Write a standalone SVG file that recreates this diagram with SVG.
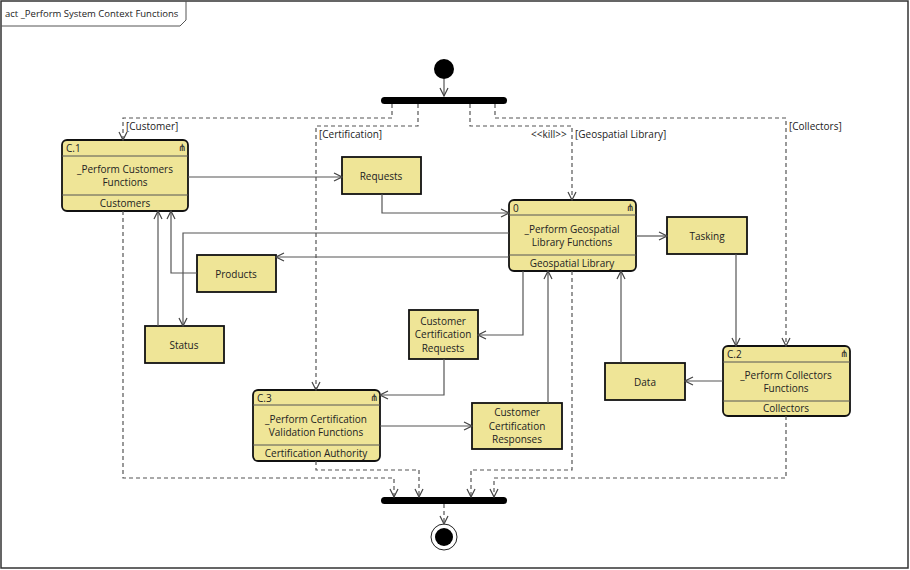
<svg xmlns="http://www.w3.org/2000/svg" width="910" height="570" viewBox="0 0 910 570">
<defs>
<marker id="a" markerWidth="10" markerHeight="10" refX="9" refY="5" orient="auto" markerUnits="userSpaceOnUse"><path d="M1,1 L9,5 L1,9" fill="none" stroke="#444" stroke-width="1.2"/></marker>
</defs>
<style>
text{font-family:"Open Sans","Noto Sans",sans-serif;font-size:10px;fill:#222}
.n{fill:#efe597;stroke:#111;stroke-width:1.8}
.c{fill:none;stroke:#555;stroke-width:1.2;marker-end:url(#a)}
.d{fill:none;stroke:#555;stroke-width:1.2;stroke-dasharray:4,3;marker-end:url(#a)}
.l{stroke:#555;stroke-width:1}
.m{text-anchor:middle}
</style>
<rect x="1" y="1" width="907" height="567" fill="#fff" stroke="#333" stroke-width="1.5"/>
<path d="M1,26 H180 L186,20 V1" fill="none" stroke="#555"/>
<text x="5" y="17" style="font-size:9.5px">act _Perform System Context Functions</text>

<g id="initial"><circle cx="444" cy="69" r="10" fill="#000"/></g>
<g id="fork"><rect x="381" y="97" width="126" height="7" rx="3.5" fill="#000"/></g>
<g id="join"><rect x="381" y="497" width="126" height="7" rx="3.5" fill="#000"/></g>
<g id="final"><circle cx="444" cy="537" r="13" fill="#fff" stroke="#222"/><circle cx="444" cy="537" r="9" fill="#000"/></g>

<g id="C1"><rect class="n" x="62" y="140" width="126" height="71" rx="5"/><line class="l" x1="62" y1="156" x2="188" y2="156"/><line class="l" x1="62" y1="195" x2="188" y2="195"/>
<text x="66" y="152">C.1</text><text x="178" y="151">⋔</text>
<text class="m" x="125" y="173">_Perform Customers</text><text class="m" x="125" y="186">Functions</text><text class="m" x="125" y="207">Customers</text></g>

<g id="N0"><rect class="n" x="509" y="200" width="127" height="71" rx="5"/><line class="l" x1="509" y1="215" x2="636" y2="215"/><line class="l" x1="509" y1="255" x2="636" y2="255"/>
<text x="513" y="212">0</text><text x="626" y="211">⋔</text>
<text class="m" x="572" y="233">_Perform Geospatial</text><text class="m" x="572" y="246">Library Functions</text><text class="m" x="572" y="267">Geospatial Library</text></g>

<g id="C2"><rect class="n" x="723" y="346" width="127" height="70" rx="5"/><line class="l" x1="723" y1="362" x2="850" y2="362"/><line class="l" x1="723" y1="401" x2="850" y2="401"/>
<text x="727" y="358">C.2</text><text x="840" y="357">⋔</text>
<text class="m" x="786" y="379">_Perform Collectors</text><text class="m" x="786" y="392">Functions</text><text class="m" x="786" y="412">Collectors</text></g>

<g id="C3"><rect class="n" x="253" y="390" width="127" height="71" rx="5"/><line class="l" x1="253" y1="405" x2="380" y2="405"/><line class="l" x1="253" y1="445" x2="380" y2="445"/>
<text x="257" y="402">C.3</text><text x="370" y="401">⋔</text>
<text class="m" x="316" y="423">_Perform Certification</text><text class="m" x="316" y="436">Validation Functions</text><text class="m" x="316" y="457">Certification Authority</text></g>

<g id="Requests"><rect class="n" x="342" y="157" width="79" height="37"/><text class="m" x="381" y="180">Requests</text></g>
<g id="Tasking"><rect class="n" x="667" y="217" width="80" height="37"/><text class="m" x="707" y="240">Tasking</text></g>
<g id="Products"><rect class="n" x="197" y="255" width="79" height="37"/><text class="m" x="236" y="278">Products</text></g>
<g id="Status"><rect class="n" x="145" y="326" width="79" height="37"/><text class="m" x="184" y="349">Status</text></g>
<g id="CCReq"><rect class="n" x="409" y="310" width="69" height="49"/><text class="m" x="443" y="325">Customer</text><text class="m" x="443" y="338">Certification</text><text class="m" x="443" y="352">Requests</text></g>
<g id="CCResp"><rect class="n" x="472" y="403" width="90" height="46"/><text class="m" x="517" y="416">Customer</text><text class="m" x="517" y="430">Certification</text><text class="m" x="517" y="443">Responses</text></g>
<g id="Data"><rect class="n" x="605" y="363" width="80" height="37"/><text class="m" x="645" y="386">Data</text></g>

<g id="connectors">
<path class="c" d="M444,79 V96"/>
<path class="d" d="M392,104 V118 H123 V140"/>
<path class="d" d="M418,104 V126 H316 V390"/>
<path class="d" d="M470,104 V126 H572 V200"/>
<path class="d" d="M495,104 V118 H786 V346"/>
<path class="c" d="M188,177 H342"/>
<path class="c" d="M382,194 V213 H509"/>
<path class="c" d="M509,233 H183 V326"/>
<path class="c" d="M509,257 H276"/>
<path class="c" d="M197,273 H171 V211"/>
<path class="c" d="M158,326 V211"/>
<path class="c" d="M523,271 V335 H478"/>
<path class="c" d="M444,359 V395 H380"/>
<path class="c" d="M380,426 H472"/>
<path class="c" d="M548,403 V271"/>
<path class="c" d="M621,363 V271"/>
<path class="c" d="M636,236 H667"/>
<path class="c" d="M736,254 V346"/>
<path class="c" d="M723,381 H685"/>
<path class="d" d="M123,211 V478 H394 V497"/>
<path class="d" d="M316,461 V470 H419 V497"/>
<path class="d" d="M572,271 V470 H471 V497"/>
<path class="d" d="M786,416 V478 H494 V497"/>
<path class="d" d="M444,504 V524"/>
</g>
<text x="126" y="130">[Customer]</text>
<text x="319" y="138">[Certification]</text>
<text x="531" y="138">&lt;&lt;kill&gt;&gt;</text>
<text x="575" y="138">[Geospatial Library]</text>
<text x="789" y="130">[Collectors]</text>
</svg>
